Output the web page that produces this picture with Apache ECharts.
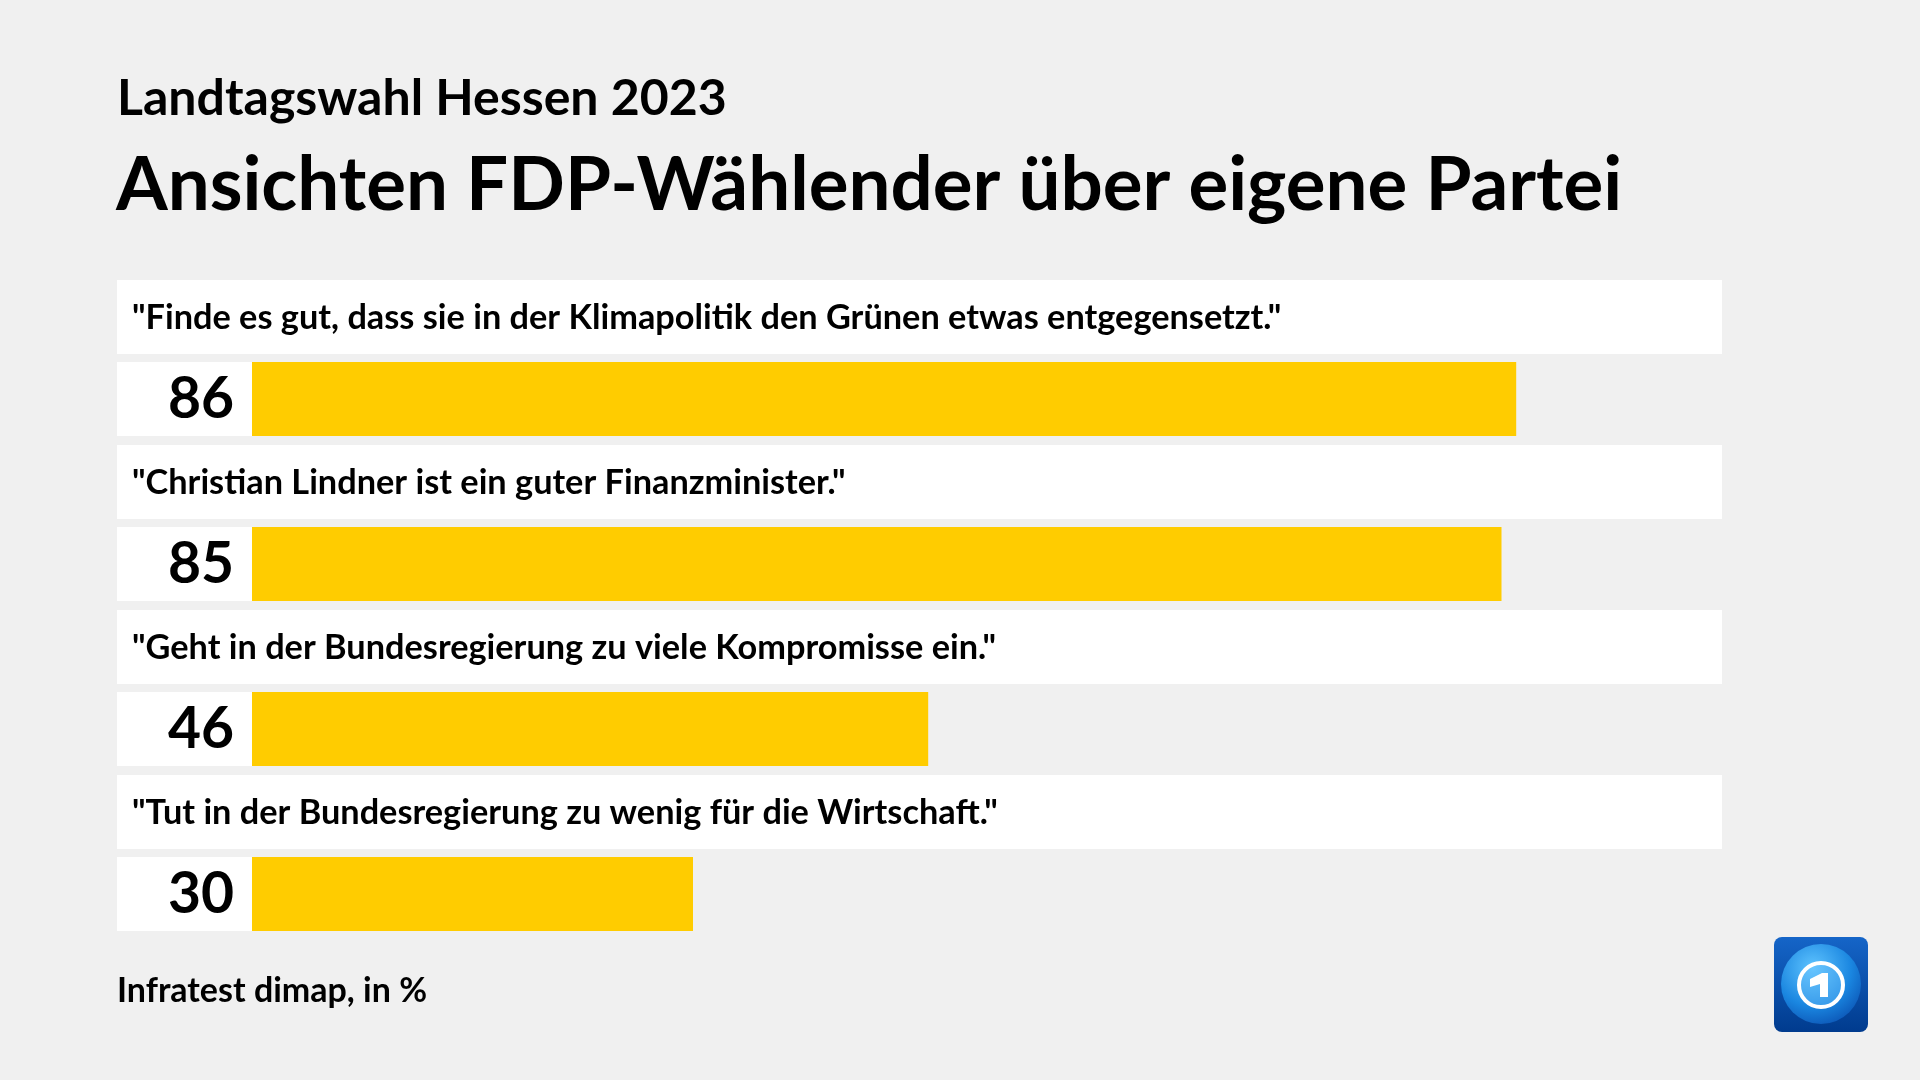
<!DOCTYPE html>
<html>
<head>
<meta charset="utf-8">
<script src="https://cdn.jsdelivr.net/npm/echarts@6/dist/echarts.min.js"></script>
<style>
html,body{margin:0;padding:0;background:#f0f0f0;}
#chart{width:1920px;height:1080px;}
</style>
</head>
<body>
<div id="chart"></div>
<script>
const categories = [
  '"Finde es gut, dass sie in der Klimapolitik den Grünen etwas entgegensetzt."',
  '"Christian Lindner ist ein guter Finanzminister."',
  '"Geht in der Bundesregierung zu viele Kompromisse ein."',
  '"Tut in der Bundesregierung zu wenig für die Wirtschaft."'
];
const values = [86, 85, 46, 30];
const subtitleText = 'Landtagswahl Hessen 2023';
const titleText = 'Ansichten FDP-Wählender über eigene Partei';
const sourceText = 'Infratest dimap, in %';

const FONT = 'Lato, "Open Sans", sans-serif';
const chart = echarts.init(document.getElementById('chart'), null, {renderer: 'canvas'});

const option = {
  backgroundColor: '#f0f0f0',
  animation: false,
  grid: {left: 252, right: 198, top: 280, height: 660},
  xAxis: {type: 'value', min: 0, max: 100, show: false},
  yAxis: {type: 'category', data: categories, inverse: true, show: false},
  graphic: [
    {type: 'text', left: 117, top: 74, style: {text: subtitleText, font: 'bold 50px ' + FONT, fill: '#000'}},
    {type: 'text', left: 116, top: 148, style: {text: titleText, font: 'bold 74.5px ' + FONT, fill: '#000'}},
    {type: 'text', left: 117, top: 974, style: {text: sourceText, font: 'bold 34px ' + FONT, fill: '#000'}},
    {
      type: 'group', left: 1774, top: 937,
      children: [
        {type: 'rect', shape: {x: 0, y: 0, width: 94, height: 95, r: 8},
          style: {fill: new echarts.graphic.LinearGradient(0, 0, 0, 1, [
            {offset: 0, color: '#1565c8'}, {offset: 1, color: '#003b8e'}])}},
        {type: 'circle', shape: {cx: 47, cy: 47, r: 40},
          style: {fill: new echarts.graphic.RadialGradient(0.4, 0.3, 0.8, [
            {offset: 0, color: '#5fc4ff'}, {offset: 0.6, color: '#1a86e0'}, {offset: 1, color: '#0a4fb0'}])}},
        {type: 'circle', shape: {cx: 47, cy: 48, r: 22},
          style: {fill: 'rgba(120,200,255,0.35)', stroke: '#ffffff', lineWidth: 4}},
        {type: 'polygon', shape: {points: [[36,42],[48,36],[54,36],[54,60],[46,60],[46,47],[36,50]]},
          style: {fill: '#ffffff'}}
      ]
    }
  ],
  series: [{
    type: 'custom',
    coordinateSystem: 'cartesian2d',
    encode: {x: 0, y: 1},
    data: values.map((v, i) => [v, i]),
    renderItem: function (params, api) {
      const v = api.value(0);
      const i = api.value(1);
      const c0 = api.coord([0, i]);
      const c1 = api.coord([v, i]);
      const cMax = api.coord([100, i]);
      const band = api.size([0, 1])[1];
      const top = c0[1] - band / 2;
      const leftX = c0[0] - 135;
      const h = 74;
      const barTop = top + 82;
      return {
        type: 'group',
        children: [
          {type: 'rect', shape: {x: leftX, y: top, width: cMax[0] - leftX, height: h}, style: {fill: '#ffffff'}},
          {type: 'text', style: {x: leftX + 15, y: top + h / 2 + 1, text: categories[i], font: 'bold 34.3px ' + FONT,
            fill: '#000', verticalAlign: 'middle', align: 'left'}},
          {type: 'rect', shape: {x: leftX, y: barTop, width: c0[0] - leftX, height: h}, style: {fill: '#ffffff'}},
          {type: 'rect', shape: {x: c0[0], y: barTop, width: c1[0] - c0[0], height: h}, style: {fill: '#ffcc00'}},
          {type: 'text', style: {x: c0[0] - 18, y: barTop + h / 2 + 1, text: String(values[i]), font: 'bold 57px ' + FONT,
            fill: '#000', verticalAlign: 'middle', align: 'right'}}
        ]
      };
    }
  }]
};
chart.setOption(option);
</script>
</body>
</html>
